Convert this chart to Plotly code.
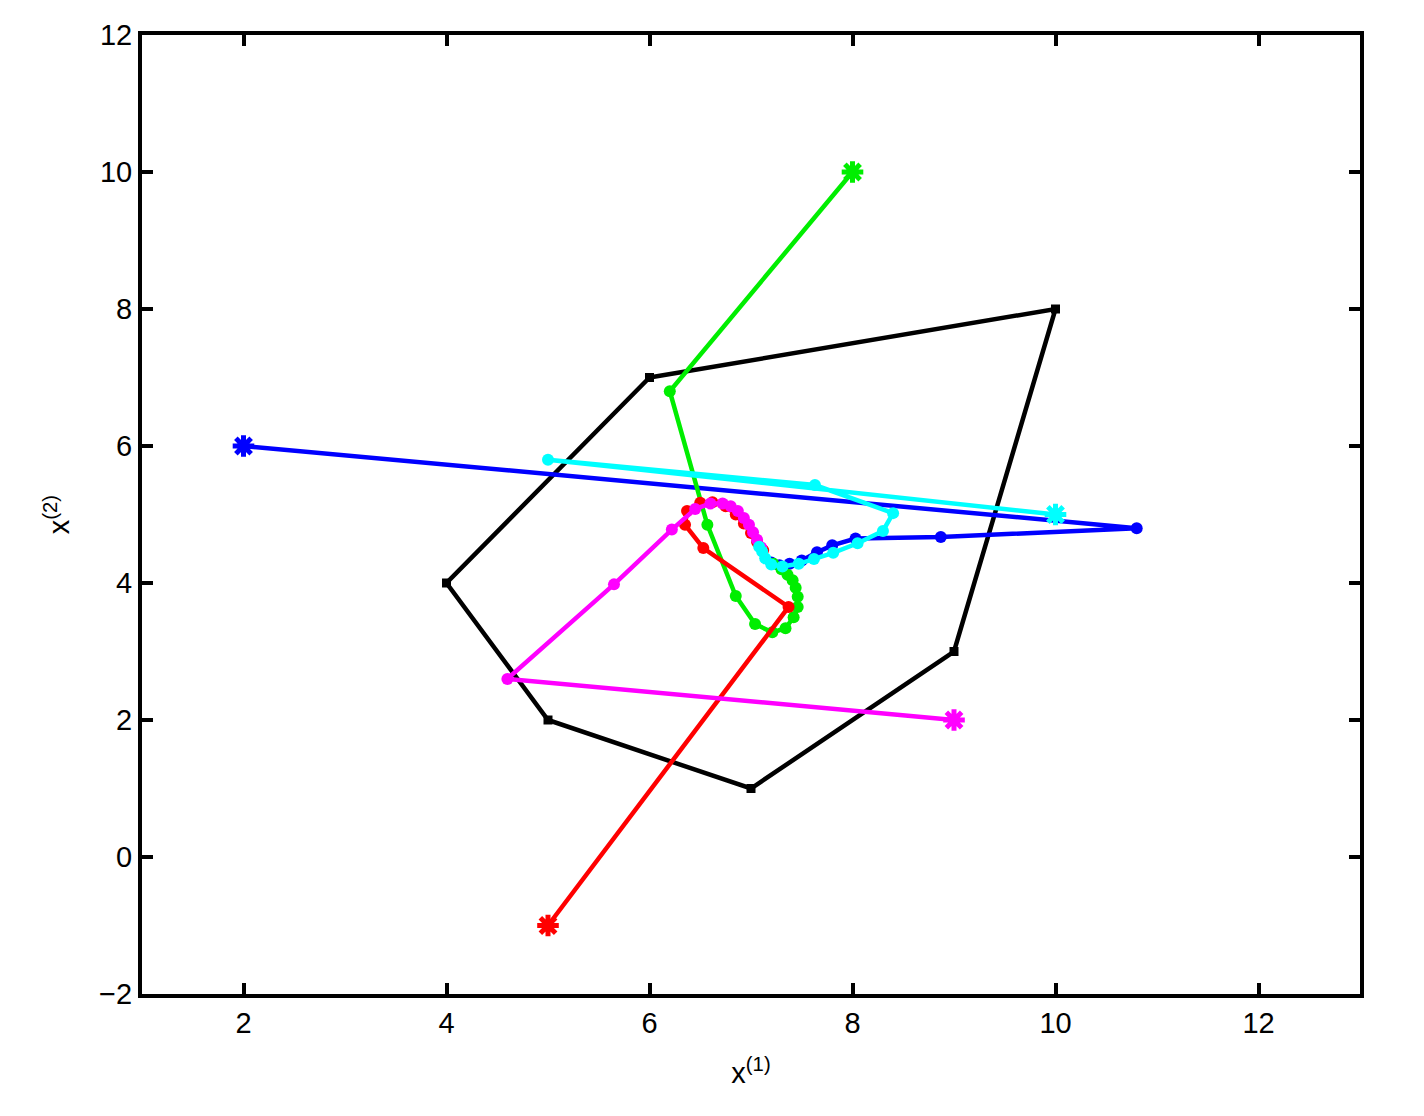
import plotly.graph_objects as go

black_x = [6, 10, 9, 7, 5, 4, 6]
black_y = [7, 8, 3, 1, 2, 4, 7]
blue_x = [2, 10.8, 8.87, 8.03, 7.8, 7.65, 7.5, 7.38, 7.28, 7.2]
blue_y = [6, 4.8, 4.67, 4.65, 4.55, 4.45, 4.33, 4.28, 4.26, 4.3]
cyan_x = [10, 5.0, 7.63, 8.4, 8.3, 8.05, 7.81, 7.62, 7.47, 7.31, 7.2, 7.14, 7.11, 7.08]
cyan_y = [5, 5.8, 5.43, 5.02, 4.76, 4.58, 4.44, 4.35, 4.28, 4.24, 4.27, 4.36, 4.46, 4.53]
green_x = [8, 6.2, 6.57, 6.85, 7.04, 7.21, 7.34, 7.42, 7.46, 7.46, 7.44, 7.41, 7.36, 7.3, 7.22]
green_y = [10, 6.8, 4.85, 3.81, 3.4, 3.28, 3.34, 3.5, 3.65, 3.8, 3.93, 4.04, 4.12, 4.2, 4.28]
red_x = [5, 7.37, 6.53, 6.35, 6.37, 6.5, 6.62, 6.75, 6.85, 6.93, 7.0, 7.06, 7.12]
red_y = [-1, 3.65, 4.51, 4.85, 5.05, 5.17, 5.18, 5.12, 5.0, 4.87, 4.73, 4.6, 4.48]
mag_x = [9, 4.6, 5.65, 6.22, 6.45, 6.6, 6.72, 6.8, 6.87, 6.93, 6.98, 7.02, 7.06, 7.1]
mag_y = [2, 2.6, 3.98, 4.78, 5.08, 5.16, 5.16, 5.12, 5.05, 4.95, 4.85, 4.74, 4.63, 4.52]

FONT = dict(family="Liberation Sans, Arial", size=29, color="black")

fig = go.Figure()
fig.add_trace(go.Scatter(x=black_x, y=black_y, mode="lines+markers",
                         line=dict(color="black", width=4.5),
                         marker=dict(symbol="square", size=9, color="black")))
series = [(blue_x, blue_y, "#0000ff"), (green_x, green_y, "#00ee00"),
          (red_x, red_y, "#ff0000"), (mag_x, mag_y, "#ff00ff"), (cyan_x, cyan_y, "#00ffff")]
for xs, ys, c in series:
    fig.add_trace(go.Scatter(x=xs, y=ys, mode="lines+markers",
                             line=dict(color=c, width=4.5),
                             marker=dict(symbol="circle", size=12, color=c)))
    fig.add_trace(go.Scatter(x=[xs[0]], y=[ys[0]], mode="markers",
                             marker=dict(symbol="asterisk", size=18, color=c,
                                         line=dict(color=c, width=5))))

ax = dict(showgrid=False, zeroline=False, showline=True, mirror="ticks",
          linecolor="black", linewidth=4, ticks="inside", ticklen=11,
          tickwidth=4, tickcolor="black", tickfont=FONT)
fig.update_layout(
    width=1424, height=1116, showlegend=False,
    plot_bgcolor="white", paper_bgcolor="white",
    margin=dict(l=134, r=72, t=27, b=130),
    xaxis=dict(ax, range=[1, 13], tickvals=[2, 4, 6, 8, 10, 12],
               title=dict(text="x<sup>(1)</sup>", font=FONT, standoff=26)),
    yaxis=dict(ax, range=[-2, 12], tickvals=[-2, 0, 2, 4, 6, 8, 10, 12],
               ticktext=["\u22122", "0", "2", "4", "6", "8", "10", "12"],
               title=dict(text="x<sup>(2)</sup>", font=FONT, standoff=22)),
)
fig.write_html("out.html")
